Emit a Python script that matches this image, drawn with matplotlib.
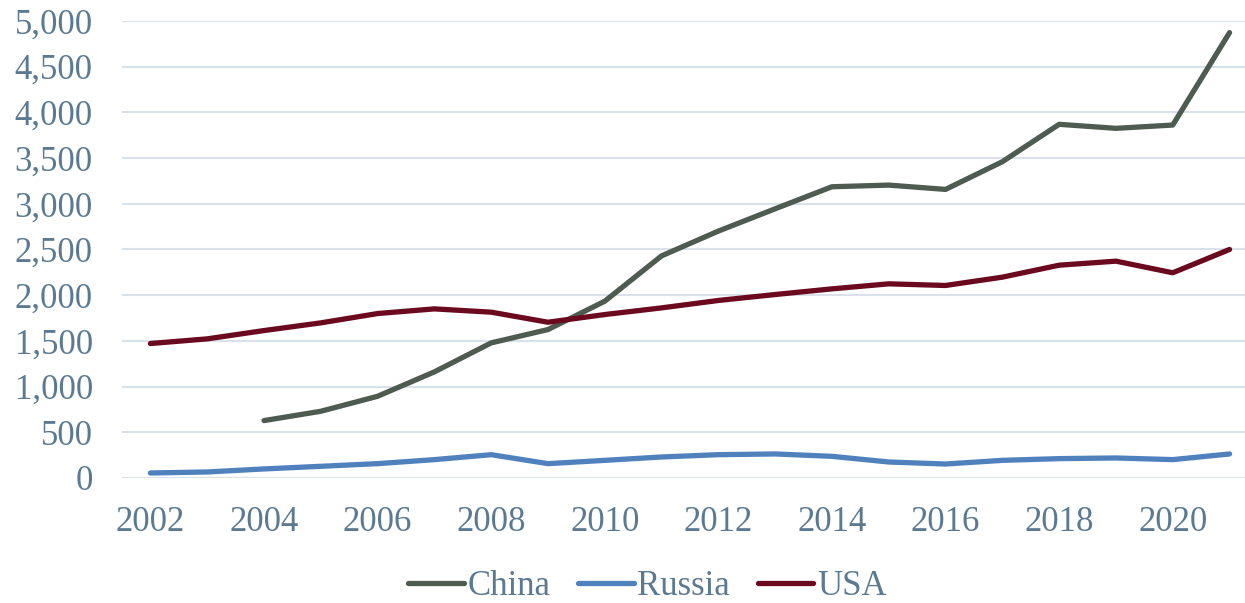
import matplotlib.pyplot as plt
from matplotlib.ticker import FuncFormatter

years = list(range(2002, 2022))
china_years = list(range(2004, 2022))
china = [628, 730, 894, 1161, 1478, 1624, 1934, 2430, 2701, 2945, 3186, 3204, 3157, 3460, 3869, 3825, 3861, 4872]
russia = [55, 66, 99, 128, 157, 201, 255, 157, 193, 230, 255, 263, 237, 175, 153, 193, 212, 219, 201, 263]
usa = [1471, 1522, 1613, 1697, 1799, 1850, 1814, 1704, 1788, 1861, 1942, 2007, 2069, 2124, 2106, 2197, 2328, 2372, 2245, 2500]

txt = "#5B7A92"
plt.rcParams['font.family'] = ['Liberation Serif', 'DejaVu Serif']

fig = plt.figure(figsize=(12.45, 6.03), dpi=100)
ax = fig.add_axes([0.098, 0.2073, 0.9124, 0.758])

ax.plot(china_years, china, color="#4E5B51", lw=3.8, label="China", solid_capstyle="round")
ax.plot(years, russia, color="#4F81BD", lw=3.8, label="Russia", solid_capstyle="round")
ax.plot(years, usa, color="#6B0A1E", lw=3.8, label="USA", solid_capstyle="round")

ax.set_xlim(2001.5, 2021.5)
ax.set_ylim(0, 5000)
ax.set_yticks(range(0, 5001, 500))
ax.set_xticks(range(2002, 2021, 2))
ax.yaxis.set_major_formatter(FuncFormatter(lambda v, p: f"{int(v):,}"))
ax.grid(axis="y", color="#D9E1EA", lw=1.5)
ax.set_axisbelow(True)
for s in ax.spines.values():
    s.set_visible(False)
ax.tick_params(length=0, labelsize=25, colors=txt)
ax.tick_params(axis="x", pad=20)
ax.tick_params(axis="y", pad=21)

leg = fig.legend(loc="center", bbox_to_anchor=(0.52, 0.027), ncol=3, frameon=False,
                 fontsize=25, handlelength=1.6, columnspacing=0.8, handletextpad=0.1)
for t in leg.get_texts():
    t.set_color(txt)

fig.savefig("out.png", dpi=100)
